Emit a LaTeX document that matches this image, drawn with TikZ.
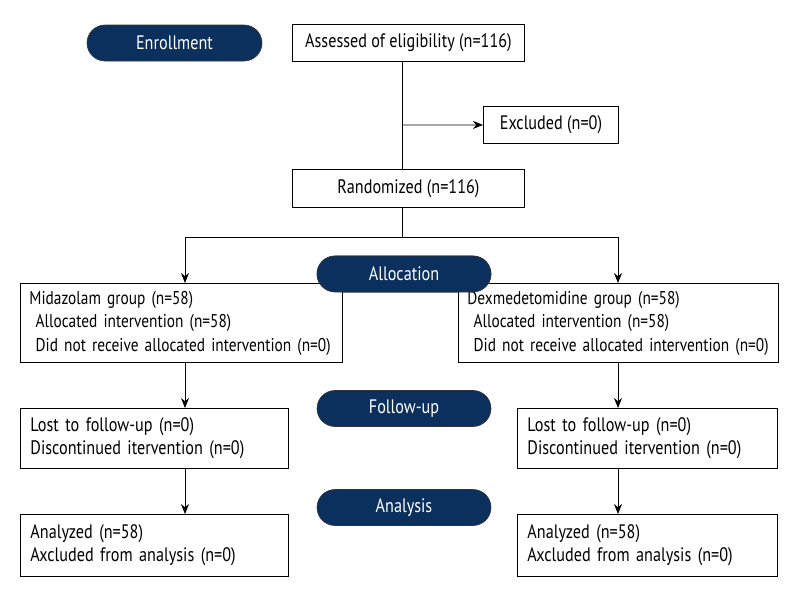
\documentclass[tikz,border=0pt]{standalone}
\usepackage{fontspec}
\setmainfont{PT Sans}[FakeStretch=0.83]
\usetikzlibrary{shapes.misc,arrows.meta}
\definecolor{navy}{HTML}{0B305E}
\newcommand{\lns}[1]{\begin{tabular}{@{}l@{}}#1\end{tabular}}
\newcommand{\boxfont}{\fontsize{19.5}{23.5}\selectfont}
\newcommand{\smallboxfont}{\fontsize{18.5}{23.5}\selectfont}
\tikzset{
  box/.style={draw=black, line width=0.9pt, fill=white, inner xsep=10pt, inner ysep=0pt, font=\boxfont, anchor=north west},
  pill/.style={rounded rectangle, draw=black!80, line width=0.6pt, fill=navy, text=white, font=\fontsize{19.5}{21}\selectfont, minimum width=174pt, minimum height=36pt, inner sep=0pt},
  conn/.style={line width=0.9pt},
  arr/.style={line width=0.9pt, -{Stealth[length=10pt,width=8pt]}}
}
\begin{document}
\begin{tikzpicture}[x=1pt,y=-1pt]
\useasboundingbox (0,0) rectangle (800,600);
% phase pills
\node[pill, minimum width=175pt] (enr) at (174.5,43) {Enrollment};
\node[pill] (alloc) at (404,274) {Allocation};
\node[pill] (fol) at (404,408.5) {Follow-up};
\node[pill] (ana) at (404,507.5) {Analysis};
% boxes
\node[box, minimum width=232pt, minimum height=37pt] (ass) at (292,24) {Assessed of eligibility (n=116)};
\node[box, minimum width=135pt, minimum height=37pt] (exc) at (483,106) {Excluded (n=0)};
\node[box, minimum width=232pt, minimum height=38pt] (ran) at (292,169) {Randomized (n=116)};
\node[box, font=\smallboxfont, text width=304pt, minimum height=79pt, align=left, inner xsep=9pt] (mid) at (20,283) {\lns{Midazolam group (n=58)\\ \ Allocated intervention (n=58)\\ \ Did not receive allocated intervention (n=0)}};
\node[box, font=\smallboxfont, text width=302pt, minimum height=79pt, align=left, inner xsep=9pt] (dex) at (458,283) {\lns{Dexmedetomidine group (n=58)\\ \ Allocated intervention (n=58)\\ \ Did not receive allocated intervention (n=0)}};
\node[box, text width=248pt, minimum height=60pt, align=left] (lost1) at (20,408) {\lns{Lost to follow-up (n=0)\\Discontinued itervention (n=0)}};
\node[box, text width=240pt, minimum height=60pt, align=left] (lost2) at (517,408) {\lns{Lost to follow-up (n=0)\\Discontinued itervention (n=0)}};
\node[box, text width=248pt, minimum height=62pt, align=left] (an1) at (20,514) {\lns{Analyzed (n=58)\\Axcluded from analysis (n=0)}};
\node[box, text width=240pt, minimum height=62pt, align=left] (an2) at (517,514) {\lns{Analyzed (n=58)\\Axcluded from analysis (n=0)}};
% helper coordinates
\coordinate (lx) at (185,0);
\coordinate (rx) at (618,0);
\coordinate (j1) at (402,125);
\coordinate (sp) at (402,237);
% connectors
\draw[conn] (ass.south -| j1) -- (ran.north -| j1);
\draw[arr] (j1) -- (exc.west);
\draw[conn] (ran.south -| sp) -- (sp);
\draw[arr] (sp) -| (mid.north -| lx);
\draw[arr] (sp) -| (dex.north -| rx);
\draw[arr] (mid.south -| lx) -- (lost1.north -| lx);
\draw[arr] (dex.south -| rx) -- (lost2.north -| rx);
\draw[arr] (lost1.south -| lx) -- (an1.north -| lx);
\draw[arr] (lost2.south -| rx) -- (an2.north -| rx);
% allocation pill overlaps boxes: redraw on top
\node[pill] at (alloc) {Allocation};
\end{tikzpicture}
\end{document}
